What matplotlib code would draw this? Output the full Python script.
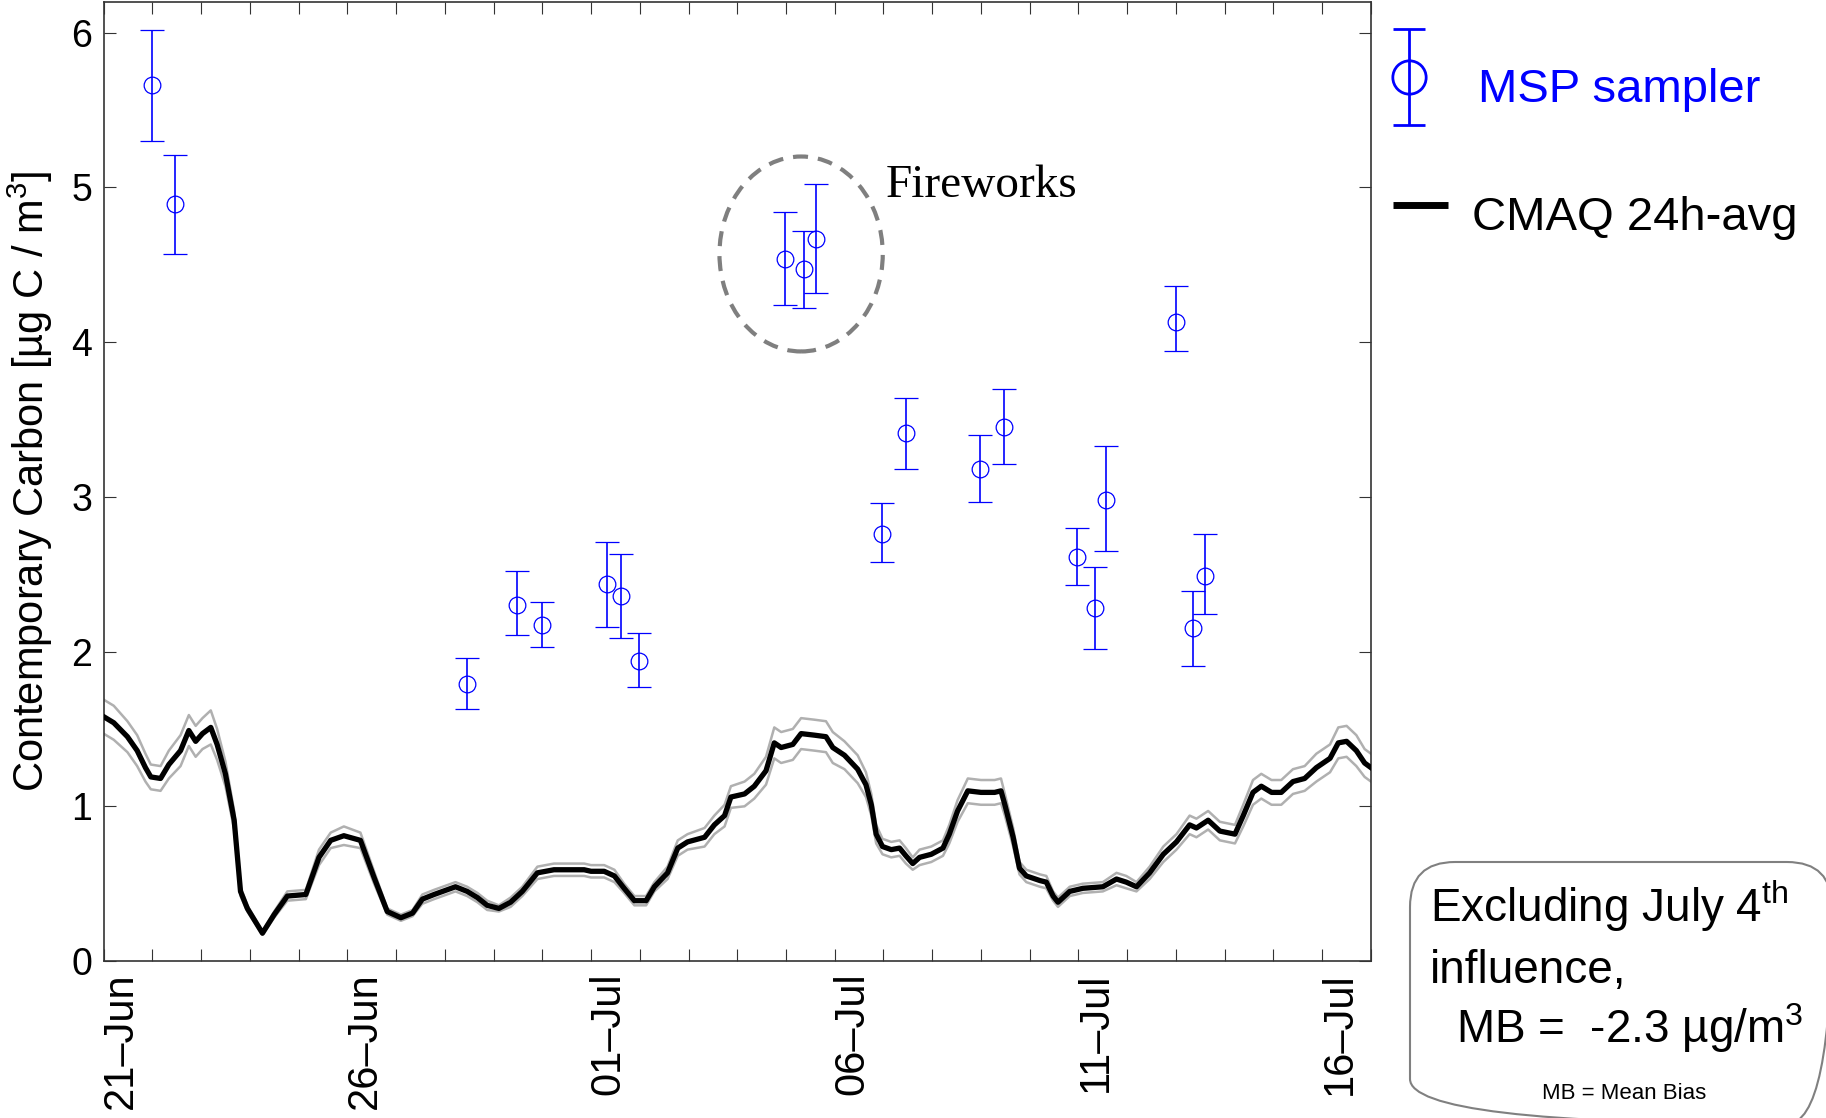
import numpy as np
import matplotlib.pyplot as plt
import matplotlib.transforms as mtransforms
from matplotlib.patches import Ellipse, FancyBboxPatch

plt.rcParams['font.family'] = ['Liberation Sans', 'DejaVu Sans']
plt.rcParams['mathtext.fontset'] = 'custom'
plt.rcParams['mathtext.rm'] = 'Liberation Sans'
plt.rcParams['mathtext.it'] = 'Liberation Sans:italic'

# time axis: days after 21-Jun 00:00
tick_days = np.arange(-1, 26)
label_days = [0, 5, 10, 15, 20, 25]
label_text = ['21\u2013Jun', '26\u2013Jun', '01\u2013Jul', '06\u2013Jul', '11\u2013Jul', '16\u2013Jul']

# MSP sampler (filter samples) with error bar ends
msp_t = [0.0, 0.47, 6.46, 7.49, 8.0, 9.33, 9.62, 9.98, 12.98, 13.36, 13.61,
         14.96, 15.47, 16.97, 17.47, 18.97, 19.33, 19.57, 21.0, 21.34, 21.6]
msp_val = [5.66, 4.89, 1.79, 2.30, 2.17, 2.44, 2.36, 1.94, 4.54, 4.47, 4.67,
           2.76, 3.41, 3.18, 3.45, 2.61, 2.28, 2.98, 4.13, 2.15, 2.49]
msp_hi = [6.02, 5.21, 1.96, 2.52, 2.32, 2.71, 2.63, 2.12, 4.84, 4.72, 5.02,
          2.96, 3.64, 3.40, 3.70, 2.80, 2.55, 3.33, 4.36, 2.39, 2.76]
msp_lo = [5.30, 4.57, 1.63, 2.11, 2.03, 2.16, 2.09, 1.77, 4.24, 4.22, 4.32,
          2.58, 3.18, 2.97, 3.21, 2.43, 2.02, 2.65, 3.94, 1.91, 2.24]

# CMAQ 24h running average and half-width of the grey band
cmaq_t = [-1.0, -0.79, -0.51, -0.31, -0.14, -0.03, 0.17, 0.34, 0.58, 0.75,
          0.89, 1.03, 1.20, 1.33, 1.50, 1.68, 1.81, 1.95, 2.26, 2.50,
          2.77, 3.15, 3.42, 3.66, 3.93, 4.27, 4.55, 4.82, 5.10, 5.34,
          5.54, 5.78, 6.22, 6.46, 6.67, 6.87, 7.11, 7.35, 7.59, 7.90,
          8.24, 8.52, 8.86, 9.00, 9.27, 9.48, 9.68, 9.89, 10.13, 10.30,
          10.57, 10.78, 10.98, 11.33, 11.53, 11.74, 11.87, 12.15, 12.35, 12.59,
          12.76, 12.90, 13.14, 13.31, 13.58, 13.82, 13.96, 14.20, 14.47, 14.64,
          14.75, 14.85, 14.98, 15.16, 15.33, 15.46, 15.60, 15.74, 15.98, 16.22,
          16.35, 16.52, 16.73, 17.00, 17.28, 17.41, 17.49, 17.66, 17.79, 17.93,
          18.21, 18.34, 18.48, 18.58, 18.82, 19.09, 19.50, 19.78, 19.98, 20.19,
          20.46, 20.74, 21.01, 21.28, 21.42, 21.66, 21.90, 22.21, 22.38, 22.58,
          22.75, 22.96, 23.16, 23.40, 23.64, 23.88, 24.16, 24.33, 24.50, 24.70,
          24.87, 25.00]
cmaq_val = [1.58, 1.54, 1.45, 1.36, 1.25, 1.19, 1.18, 1.27, 1.36, 1.49,
            1.42, 1.47, 1.51, 1.40, 1.21, 0.91, 0.45, 0.34, 0.18, 0.30,
            0.42, 0.43, 0.67, 0.78, 0.81, 0.78, 0.54, 0.32, 0.28, 0.31,
            0.40, 0.43, 0.48, 0.45, 0.41, 0.36, 0.34, 0.38, 0.45, 0.57,
            0.59, 0.59, 0.59, 0.58, 0.58, 0.55, 0.47, 0.39, 0.39, 0.48,
            0.57, 0.73, 0.77, 0.80, 0.88, 0.94, 1.06, 1.08, 1.13, 1.23,
            1.41, 1.38, 1.40, 1.47, 1.46, 1.45, 1.38, 1.33, 1.24, 1.14,
            1.01, 0.82, 0.74, 0.72, 0.73, 0.68, 0.63, 0.67, 0.69, 0.73,
            0.82, 0.97, 1.10, 1.09, 1.09, 1.10, 1.01, 0.80, 0.60, 0.55,
            0.52, 0.51, 0.42, 0.38, 0.45, 0.47, 0.48, 0.53, 0.51, 0.48,
            0.57, 0.69, 0.77, 0.88, 0.86, 0.91, 0.84, 0.82, 0.94, 1.09,
            1.13, 1.09, 1.09, 1.16, 1.18, 1.25, 1.31, 1.41, 1.42, 1.36,
            1.28, 1.25]
cmaq_hw = [0.11, 0.11, 0.10, 0.10, 0.09, 0.08, 0.08, 0.09, 0.10, 0.10,
           0.10, 0.10, 0.11, 0.10, 0.08, 0.06, 0.03, 0.02, 0.01, 0.02,
           0.03, 0.03, 0.05, 0.05, 0.06, 0.05, 0.04, 0.02, 0.02, 0.02,
           0.03, 0.03, 0.03, 0.03, 0.03, 0.03, 0.02, 0.03, 0.03, 0.04,
           0.04, 0.04, 0.04, 0.04, 0.04, 0.04, 0.03, 0.03, 0.03, 0.03,
           0.04, 0.05, 0.05, 0.06, 0.06, 0.07, 0.07, 0.08, 0.08, 0.09,
           0.10, 0.10, 0.10, 0.10, 0.10, 0.10, 0.10, 0.09, 0.09, 0.08,
           0.07, 0.06, 0.05, 0.05, 0.05, 0.05, 0.04, 0.05, 0.05, 0.05,
           0.06, 0.07, 0.08, 0.08, 0.08, 0.08, 0.07, 0.06, 0.04, 0.04,
           0.04, 0.04, 0.03, 0.03, 0.03, 0.03, 0.03, 0.04, 0.04, 0.03,
           0.04, 0.05, 0.05, 0.06, 0.06, 0.06, 0.06, 0.06, 0.07, 0.08,
           0.08, 0.08, 0.08, 0.08, 0.08, 0.09, 0.09, 0.10, 0.10, 0.10,
           0.09, 0.09]

msp_val = np.array(msp_val)
cmaq_val = np.array(cmaq_val)
cmaq_hw = np.array(cmaq_hw)

fig = plt.figure(figsize=(18.26, 11.18), dpi=100)
ax = fig.add_axes([0.0567, 0.1404, 0.6941, 0.858])

# CMAQ with grey band lines
ax.plot(cmaq_t, cmaq_val + cmaq_hw, color='#b0b0b0', lw=1.8, zorder=2)
ax.plot(cmaq_t, cmaq_val - cmaq_hw, color='#b0b0b0', lw=1.8, zorder=2)
ax.plot(cmaq_t, cmaq_val, color='black', lw=3.8, zorder=3)

# MSP samples
yerr = [msp_val - np.array(msp_lo), np.array(msp_hi) - msp_val]
ax.errorbar(msp_t, msp_val, yerr=yerr, fmt='o', ms=12, mfc='none', mec='blue',
            mew=0.9, ecolor='blue', elinewidth=1.2, capsize=8.5, capthick=2.6,
            zorder=4)

# fireworks note
ax.add_patch(Ellipse((13.31, 4.57), 3.35, 1.26, fill=False, ec='#7f7f7f', lw=3,
                     linestyle=(0, (3.6, 2.4)), zorder=5))
ax.text(15.04, 4.94, 'Fireworks', family='Liberation Serif', fontsize=34,
        va='baseline', ha='left')

ax.set_xlim(-1, 25)
ax.set_ylim(0, 6.2)
ax.set_yticks(range(0, 7))
ax.set_xticks(label_days)
ax.set_xticks(tick_days, minor=True)
ax.set_xticklabels(label_text, rotation=90, ha='right', va='top', fontsize=30)
ax.tick_params(axis='y', labelsize=27)
ax.tick_params(which='both', direction='in', top=True, right=True,
               length=8.6, width=0.8, color='#333333', pad=8)
for s in ax.spines.values():
    s.set_linewidth(1.2)
    s.set_color('#333333')

shift = mtransforms.ScaledTranslation(-0.11, 0, fig.dpi_scale_trans)
for lab in ax.get_xticklabels():
    lab.set_transform(lab.get_transform() + shift)

ax.set_ylabel('Contemporary Carbon [\u00b5g C / m$^{3}$]', fontsize=30)
ax.yaxis.set_label_coords(-0.038, 0.5)

# overlay in pixel units for legend and note box
ov = fig.add_axes([0, 0, 1, 1], zorder=10)
ov.set_xlim(0, 1826)
ov.set_ylim(1118, 0)
ov.axis('off')

ov.errorbar([1409], [77], yerr=[[48], [48]], fmt='o', ms=24, mfc='none',
            mec='blue', mew=2, ecolor='blue', elinewidth=2, capsize=11.5,
            capthick=3)
ov.text(1478, 102, 'MSP sampler', color='blue', fontsize=34, va='baseline')
ov.plot([1393, 1448], [205, 205], color='black', lw=5, solid_capstyle='butt')
ov.text(1472, 230, 'CMAQ 24h-avg', color='black', fontsize=34, va='baseline')

ov.add_patch(FancyBboxPatch((1410, 862), 422, 262,
                            boxstyle='round,pad=0,rounding_size=45',
                            fill=False, ec='#808080', lw=1.5))
ov.text(1430, 922, 'Excluding July 4$^{\\mathrm{th}}$', fontsize=33, va='baseline')
ov.text(1430, 983, 'influence,', fontsize=33, va='baseline')
ov.text(1456, 1043, 'MB =  -2.3 \u00b5g/m$^{3}$', fontsize=33, va='baseline')
ov.text(1624, 1099, 'MB = Mean Bias', fontsize=16, va='baseline', ha='center')

fig.savefig('out.png', dpi=100)
